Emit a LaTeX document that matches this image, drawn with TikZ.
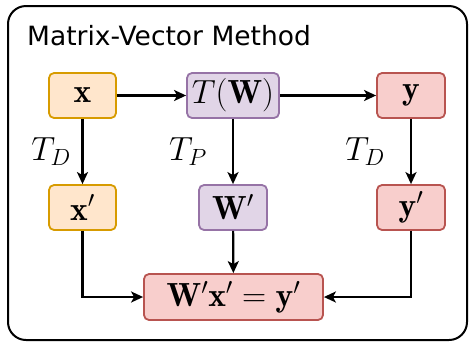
\RequirePackage{fix-cm}
\documentclass[tikz,border=0pt]{standalone}
\usepackage{amsmath,amssymb}
\usepackage{fontspec}
\usepackage{tikz}
\usetikzlibrary{arrows.meta}
\newfontfamily\titlefont{DejaVu Sans}
\definecolor{boxorange}{HTML}{FFE6CC}
\definecolor{lineorange}{HTML}{D79B00}
\definecolor{boxpurple}{HTML}{E1D5E7}
\definecolor{linepurple}{HTML}{9673A6}
\definecolor{boxred}{HTML}{F8CECC}
\definecolor{linered}{HTML}{B85450}
\tikzset{
  every picture/.append style={font=\fontsize{33.5}{36}\selectfont},
  mbox/.style={draw,rounded corners=5pt,line width=1.8pt,minimum height=45pt,inner sep=0pt},
  orangebox/.style={mbox,fill=boxorange,draw=lineorange},
  purplebox/.style={mbox,fill=boxpurple,draw=linepurple},
  redbox/.style={mbox,fill=boxred,draw=linered},
  flow/.style={-{Stealth[length=12pt,width=11pt,inset=3pt]},line width=2.2pt}
}

\begin{document}
\begin{tikzpicture}[x=1pt,y=-1pt]
    \useasboundingbox (0,0) rectangle (470,341);
    \draw[line width=2pt,rounded corners=18pt] (8,6) rectangle (467,340);
    \node[anchor=base west,inner sep=0pt,font=\titlefont\fontsize{26.5}{30}\selectfont] (title) at (27,45) {Matrix-Vector Method};
    \node[orangebox,minimum width=67pt] (nx) at (82.5,95.5) {$\mathbf{x}$};
    \node[purplebox,minimum width=92pt] (ntw) at (233,95.5) {$T(\mathbf{W})$};
    \node[redbox,minimum width=68pt] (ny) at (411,95.5) {$\mathbf{y}$};
    \node[orangebox,minimum width=67pt] (nxp) at (82.5,207.5) {$\mathbf{x}'$};
    \node[purplebox,minimum width=68pt] (nwp) at (233,207.5) {$\mathbf{W}'$};
    \node[redbox,minimum width=68pt] (nyp) at (411,207.5) {$\mathbf{y}'$};
    \node[redbox,minimum width=179pt,minimum height=46pt] (nres) at (233.5,297) {$\mathbf{W}'\mathbf{x}'=\mathbf{y}'$};
    \node (ltd) at (51,152) {$T_D$};
    \node (ltp) at (188,152) {$T_P$};
    \node (rtd) at (365,152) {$T_D$};
    \draw[flow] (nx) -- (ntw);
    \draw[flow] (ntw) -- (ny);
    \draw[flow] (nx) -- (nxp);
    \draw[flow] (ntw) -- (nwp);
    \draw[flow] (ny) -- (nyp);
    \draw[flow] (nwp) -- (nres);
    \draw[flow] (nxp) |- (nres);
    \draw[flow] (nyp) |- (nres);
  \end{tikzpicture}
\end{document}
